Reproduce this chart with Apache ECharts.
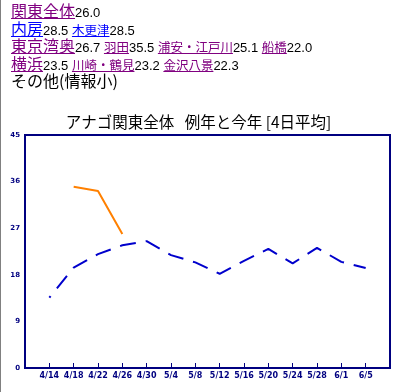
<!DOCTYPE html>
<html>
<head>
<meta charset="utf-8">
<script src="https://cdn.jsdelivr.net/npm/echarts@6/dist/echarts.min.js"></script>
<style>
  html, body { margin: 0; padding: 0; background: #fff; }
  body { width: 397px; height: 392px; position: relative; overflow: hidden; }
  #edge { position: absolute; left: 0; top: 0; width: 1px; height: 392px; background: #808080; z-index: 3; }
  #chart { position: absolute; left: 0; top: 0; width: 397px; height: 392px; }
  #head { position: absolute; left: 11px; top: 2px; z-index: 2; font-family: "Liberation Sans", "Noto Sans CJK JP", sans-serif; font-size: 13px; color: #000; white-space: nowrap; }
  #head .ln { height: 17.5px; line-height: 17.5px; }
  #head a { text-decoration: underline; }
  #head .big { font-size: 16px; font-family: "Noto Sans CJK JP", sans-serif; }
  #head .sm { font-size: 12.5px; font-family: "Noto Sans CJK JP", sans-serif; }
  .v { color: #800080; }
  .u { color: #0000ff; }
  .plain16 { font-size: 16px; font-family: "Noto Sans CJK JP", sans-serif; }
</style>
</head>
<body>
<div id="edge"></div>
<div id="chart"></div>
<div id="head">
  <div class="ln"><a class="big v">関東全体</a>26.0</div>
  <div class="ln"><a class="big u">内房</a>28.5 <a class="sm u">木更津</a>28.5</div>
  <div class="ln"><a class="big v">東京湾奥</a>26.7 <a class="sm v">羽田</a>35.5 <a class="sm v">浦安・江戸川</a>25.1 <a class="sm v">船橋</a>22.0</div>
  <div class="ln"><a class="big v">横浜</a>23.5 <a class="sm v">川崎・鶴見</a>23.2 <a class="sm v">金沢八景</a>22.3</div>
  <div class="ln"><span class="plain16">その他(情報小)</span></div>
</div>
<script>
// ---- data ----
const tickLabels = ['4/14','4/18','4/22','4/26','4/30','5/4','5/8','5/12','5/16','5/20','5/24','5/28','6/1','6/5'];
const normalDates = ['4/14','4/18','4/22','4/26','4/30','5/4','5/8','5/12','5/16','5/20','5/24','5/28','6/1','6/5'];
const normalValues = [13.6, 19.4, 22.0, 23.7, 24.5, 21.8, 20.4, 18.2, 20.7, 23.0, 20.2, 23.2, 20.5, 19.3];
const thisYearDates = ['4/18','4/22','4/26'];
const thisYearValues = [35.0, 34.2, 25.9];
const yTicks = [0, 9, 18, 27, 36, 45];
const axisStartDate = '4/10';
const axisEndDate = '6/9';

// day offset from axis start
const monthStart = {4: 0, 5: 30, 6: 61};
function dayNum(md) { const p = md.split('/').map(Number); return monthStart[p[0]] + p[1]; }
const base = dayNum(axisStartDate);
function dx(md) { return dayNum(md) - base; }
const labelAt = {};
tickLabels.forEach(t => { labelAt[dx(t)] = t; });

const chart = echarts.init(document.getElementById('chart'), null, {renderer: 'canvas'});
const navy = '#000080';
chart.setOption({
  animation: false,
  backgroundColor: '#fff',
  title: {
    text: 'アナゴ関東全体   例年と今年 [4日平均]',
    left: 'center',
    top: 109,
    textStyle: { fontFamily: 'Noto Sans CJK JP', fontSize: 15.5, fontWeight: 'normal', color: '#000' }
  },
  grid: { left: 25, right: 7, top: 135, bottom: 24, show: true, borderColor: navy, borderWidth: 2, backgroundColor: '#fff' },
  xAxis: {
    type: 'value',
    min: 0,
    max: dx(axisEndDate),
    interval: 4,
    splitLine: { show: false },
    axisLine: { show: true, lineStyle: { color: navy, width: 2 } },
    axisTick: { show: true, inside: true, length: 5, lineStyle: { color: navy, width: 1 } },
    axisLabel: {
      color: navy, fontFamily: 'DejaVu Sans', fontSize: 8, fontWeight: 'bold', margin: 4,
      showMinLabel: true, showMaxLabel: true,
      formatter: v => labelAt[v] || ''
    }
  },
  yAxis: {
    type: 'value',
    min: yTicks[0],
    max: yTicks[yTicks.length - 1],
    interval: 9,
    splitLine: { show: false },
    axisLine: { show: true, lineStyle: { color: navy, width: 2 } },
    axisTick: { show: false },
    axisLabel: { color: navy, fontFamily: 'DejaVu Sans', fontSize: 7, fontWeight: 'bold', margin: 5 }
  },
  series: [
    {
      type: 'line',
      data: normalDates.map((d, i) => [dx(d), normalValues[i]]),
      showSymbol: false,
      lineStyle: { color: '#0000cc', width: 2, type: [16, 10], dashOffset: 14 },
      itemStyle: { color: '#0000cc' }
    },
    {
      type: 'line',
      data: thisYearDates.map((d, i) => [dx(d), thisYearValues[i]]),
      showSymbol: false,
      lineStyle: { color: '#ff8000', width: 2 },
      itemStyle: { color: '#ff8000' }
    }
  ]
});
</script>
</body>
</html>
